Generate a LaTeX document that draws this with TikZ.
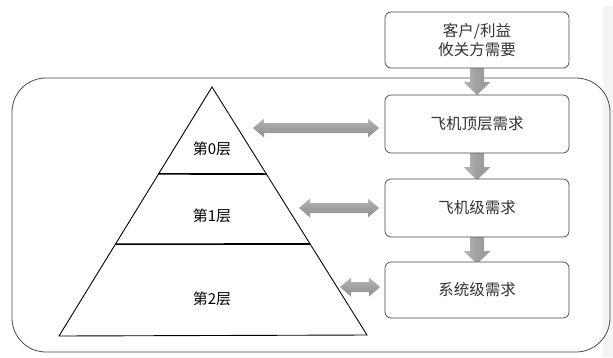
\documentclass[tikz,border=0pt]{standalone}
\usepackage{fontspec}
\newfontfamily\cjk{Noto Sans CJK SC}
\usetikzlibrary{calc}
\tikzset{
  reqbox/.style={draw=gray!55!black, fill=white, rounded corners=6, line width=0.7pt,
    minimum width=184, minimum height=57, inner sep=0, align=center,
    font=\cjk\fontsize{15.5}{19}\selectfont, text=black!80},
  layerlabel/.style={font=\cjk\fontsize{15}{18}\selectfont, text=black, inner sep=0},
  arrshade/.style={top color=gray!55, bottom color=gray!85, middle color=gray!75},
  downshade/.style={left color=gray!55, right color=gray!80, middle color=gray!75},
  downarr/.pic={\shade[downshade] (-7,0) -- (7,0) -- (7,14) -- (13.5,14) -- (0,27) -- (-13.5,14) -- (-7,14) -- cycle;}
}
\newcommand{\dblarr}[3]{%
  \pgfmathsetmacro{\shaftlen}{#2-#1-22}%
  \shade[arrshade] (#1,#3) -- ++(11,-9.5) -- ++(0,4.5) -- ++(\shaftlen,0) -- ++(0,-4.5)
    -- ++(11,9.5) -- ++(-11,9.5) -- ++(0,-4.5) -- ++(-\shaftlen,0) -- ++(0,4.5) -- cycle;}
\begin{document}
\begin{tikzpicture}[x=1pt,y=-1pt]
\useasboundingbox (0,0) rectangle (613,357);
\fill[white] (0,0) rectangle (613,357);
\fill[gray!9] (603,6) rectangle (613,357);
% frame
\draw[gray!60!black, line width=0.8pt, rounded corners=34] (12,78) rectangle (610,352);
% pyramid
\coordinate (apex) at (212,87);
\coordinate (bl) at (59,336);
\coordinate (br) at (367,335);
\draw[black, line width=0.9pt, line join=miter] (apex) -- (bl) -- (br) -- cycle;
\draw[black, line width=1.6pt] ($(apex)!0.349!(bl)$) -- ($(apex)!0.351!(br)$);
\draw[black, line width=1.6pt] ($(apex)!0.631!(bl)$) -- ($(apex)!0.633!(br)$);
\node[layerlabel] (l0) at (212,149) {第0层};
\node[layerlabel] (l1) at (212,216) {第1层};
\node[layerlabel] (l2) at (212,299) {第2层};
% down arrows
\path (477,68) pic {downarr};
\path (477,153) pic {downarr};
\path (477,237) pic {downarr};
% boxes
\node[reqbox, minimum height=56] (b0) at (477,40) {客户/利益\\攸关方需要};
\node[reqbox, minimum height=58] (b1) at (477,124) {飞机顶层需求};
\node[reqbox, minimum height=58] (b2) at (477,208) {飞机级需求};
\node[reqbox, minimum height=56] (b3) at (477,290) {系统级需求};
% double arrows
\dblarr{253}{379}{128}
\dblarr{299}{379}{208}
\dblarr{340}{380}{287}
\end{tikzpicture}
\end{document}
